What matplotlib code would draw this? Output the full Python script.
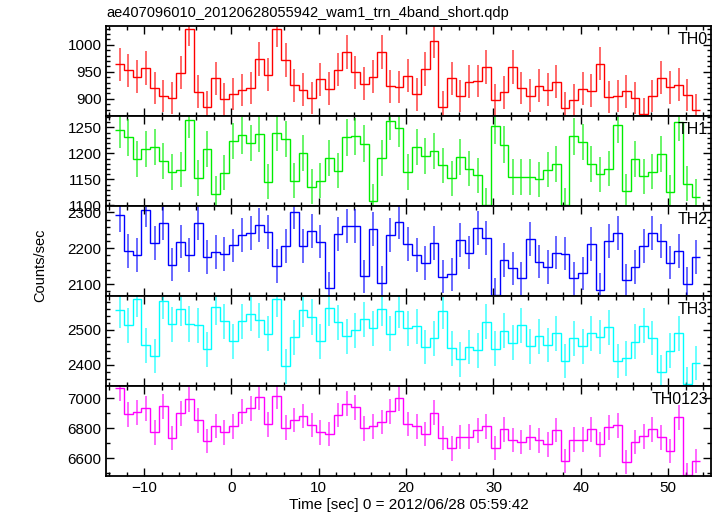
import numpy as np
import matplotlib
matplotlib.use("Agg")
import matplotlib.pyplot as plt
from matplotlib.ticker import MultipleLocator

plt.rcParams['font.family'] = ['Liberation Sans', 'DejaVu Sans']

title = "ae407096010_20120628055942_wam1_trn_4band_short.qdp"
xlabel = "Time [sec] 0 = 2012/06/28 05:59:42"
ylabel = "Counts/sec"

# bin centres (1 s bins)
time = np.arange(-12.8, 53.3, 1.0)

th0 = [964, 953, 941, 957, 920, 905, 901, 948, 1030, 913,
       884, 938, 899, 909, 916, 920, 974, 945, 1029, 972,
       925, 917, 901, 936, 919, 954, 986, 949, 928, 941,
       986, 923, 922, 943, 908, 955, 1008, 884, 938, 905,
       932, 933, 959, 898, 912, 959, 920, 906, 924, 917,
       932, 882, 897, 919, 915, 965, 903, 905, 914, 901,
       872, 905, 939, 921, 926, 907, 880]

th1 = [1246, 1231, 1190, 1209, 1213, 1185, 1164, 1169, 1265, 1153,
       1208, 1123, 1163, 1224, 1235, 1220, 1238, 1146, 1240, 1228,
       1148, 1200, 1136, 1148, 1192, 1167, 1231, 1233, 1219, 1108,
       1191, 1262, 1248, 1164, 1212, 1195, 1204, 1177, 1152, 1194,
       1171, 1158, 1101, 1253, 1217, 1155, 1155, 1155, 1150, 1169,
       1180, 1101, 1233, 1222, 1180, 1160, 1171, 1255, 1127, 1190,
       1156, 1165, 1199, 1126, 1260, 1142, 1117]

th2 = [2294, 2192, 2182, 2308, 2214, 2271, 2154, 2219, 2181, 2272,
       2176, 2189, 2184, 2208, 2236, 2244, 2264, 2245, 2151, 2206,
       2302, 2206, 2247, 2219, 2089, 2241, 2263, 2262, 2122, 2253,
       2104, 2237, 2274, 2213, 2181, 2159, 2214, 2121, 2127, 2224,
       2188, 2256, 2228, 2071, 2167, 2144, 2117, 2225, 2163, 2148,
       2188, 2185, 2116, 2131, 2212, 2085, 2221, 2244, 2111, 2148,
       2206, 2244, 2220, 2160, 2193, 2101, 2176]

th3 = [2557, 2514, 2588, 2456, 2425, 2582, 2516, 2561, 2517, 2514,
       2445, 2565, 2525, 2468, 2525, 2547, 2528, 2489, 2588, 2396,
       2479, 2558, 2537, 2468, 2562, 2522, 2482, 2499, 2531, 2505,
       2561, 2489, 2555, 2505, 2510, 2451, 2476, 2553, 2448, 2416,
       2451, 2442, 2524, 2447, 2498, 2464, 2513, 2453, 2482, 2457,
       2490, 2411, 2476, 2453, 2491, 2480, 2508, 2411, 2419, 2467,
       2512, 2477, 2381, 2441, 2491, 2345, 2405]

th0123 = [7067, 6893, 6907, 6933, 6773, 6947, 6735, 6900, 6993, 6853,
          6715, 6815, 6773, 6813, 6911, 6933, 7007, 6827, 7015, 6804,
          6855, 6882, 6822, 6773, 6762, 6889, 6964, 6942, 6800, 6813,
          6842, 6913, 7002, 6829, 6813, 6762, 6904, 6735, 6667, 6742,
          6744, 6787, 6813, 6669, 6793, 6722, 6709, 6740, 6720, 6693,
          6789, 6580, 6724, 6724, 6793, 6693, 6807, 6820, 6575, 6709,
          6747, 6793, 6740, 6649, 6873, 6491, 6582]

names = ["TH0", "TH1", "TH2", "TH3", "TH0123"]
series = [th0, th1, th2, th3, th0123]
colors = ["#ff0000", "#00ee00", "#0000ff", "#00ffff", "#ff00ff"]
ylims = [(868, 1035), (1099, 1272), (2067, 2318), (2340, 2597), (6482, 7082)]
major = [50, 50, 100, 100, 200]
minor = [10, 10, 20, 20, 100]

fig = plt.figure(figsize=(7.17, 5.16), dpi=100)
left, right, bottom, top = 0.1485, 0.9916, 0.0775, 0.9496
h = (top - bottom) / 5
axes = []
for k in range(5):
    ax = fig.add_axes([left, top - (k + 1) * h, right - left, h])
    axes.append(ax)
    vals = np.array(series[k], dtype=float)
    err = np.sqrt(vals)
    edges = np.append(time - 0.5, time[-1] + 0.5)
    ax.errorbar(time, vals, yerr=err, fmt='none', ecolor=colors[k],
                elinewidth=1.1, capsize=0, alpha=0.75)
    ax.stairs(vals, edges, color=colors[k], linewidth=1.0, baseline=None)
    ax.set_xlim(-14.3, 54.9)
    ax.set_ylim(*ylims[k])
    ax.xaxis.set_major_locator(MultipleLocator(10))
    ax.xaxis.set_minor_locator(MultipleLocator(2))
    ax.yaxis.set_major_locator(MultipleLocator(major[k]))
    ax.yaxis.set_minor_locator(MultipleLocator(minor[k]))
    ax.tick_params(which='both', direction='in', top=True, right=True,
                   labelsize=11, width=1.0)
    ax.tick_params(which='major', length=6)
    ax.tick_params(which='minor', length=3)
    for s in ax.spines.values():
        s.set_linewidth(1.3)
    if k < 4:
        ax.tick_params(labelbottom=False)
    ax.text(0.995, 0.93, names[k], transform=ax.transAxes, ha='right',
            va='top', fontsize=11.5)

axes[-1].set_xlabel(xlabel, fontsize=11, labelpad=2)
fig.text(0.056, 0.485, ylabel, rotation=90, ha='center', va='center', fontsize=10.5)
fig.text(left, 0.975, title, ha='left', va='center', fontsize=10.5)

fig.savefig("out.png", dpi=100)
